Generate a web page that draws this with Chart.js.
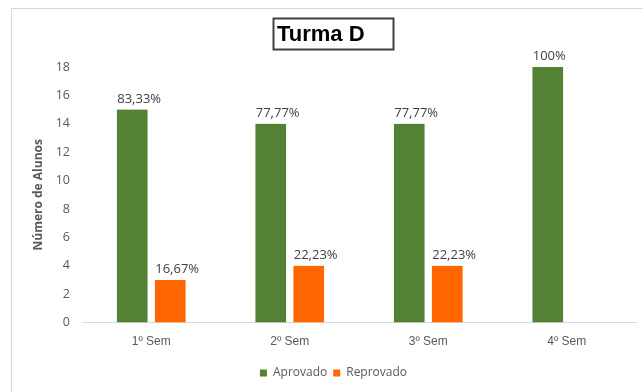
<!DOCTYPE html>
<html>
<head>
<meta charset="utf-8">
<script src="https://cdn.jsdelivr.net/npm/chart.js@4.4.1/dist/chart.umd.min.js"></script>
<style>
  html, body { margin: 0; padding: 0; background: #fff; overflow: hidden; }
  #wrap { position: relative; width: 643px; height: 392px; }
  #frame {
    position: absolute; left: 11px; top: 8px; width: 660px; height: 420px;
    border-left: 1px solid #d9d9d9; border-top: 1px solid #d9d9d9;
    pointer-events: none;
  }
  canvas { position: absolute; left: 0; top: 0; }
</style>
</head>
<body>
<div id="wrap">
  <canvas id="turmaChart" width="643" height="392"></canvas>
  <div id="frame"></div>
</div>
<script>
// Turma D - alunos por semestre
const semestres = ['1º Sem', '2º Sem', '3º Sem', '4º Sem'];
const aprovados = [15, 14, 14, 18];
const reprovados = [3, 4, 4, null];
const pctAprovados = ['83,33%', '77,77%', '77,77%', '100%'];
const pctReprovados = ['16,67%', '22,23%', '22,23%', null];
const yTicks = [0, 2, 4, 6, 8, 10, 12, 14, 16, 18];

Chart.defaults.font.family = "'Open Sans', sans-serif";
Chart.defaults.font.size = 12;
Chart.defaults.color = '#595959';

// boxed title drawn above the plot
const titleBox = {
    id: 'titleBox',
    afterDraw(chart) {
        const ctx = chart.ctx;
        ctx.save();
        ctx.strokeStyle = '#404040';
        ctx.lineWidth = 2;
        ctx.strokeRect(273.5, 18.5, 120, 31);
        ctx.fillStyle = '#000';
        ctx.font = "bold 22px 'Liberation Sans', Arial, sans-serif";
        ctx.textBaseline = 'middle';
        ctx.textAlign = 'left';
        ctx.fillText('Turma D', 277, 35);
        ctx.restore();
    }
};

// percentage labels above each bar
const pctLabels = {
    id: 'pctLabels',
    afterDatasetsDraw(chart) {
        const ctx = chart.ctx;
        const sets = [pctAprovados, pctReprovados];
        ctx.save();
        ctx.font = "13px 'Open Sans', sans-serif";
        ctx.fillStyle = '#404040';
        ctx.textAlign = 'left';
        ctx.textBaseline = 'alphabetic';
        chart.data.datasets.forEach((ds, i) => {
            chart.getDatasetMeta(i).data.forEach((bar, j) => {
                if (ds.data[j] == null || sets[i][j] == null) return;
                const left = bar.x - bar.width / 2 + 4;
                ctx.fillText(sets[i][j], left, bar.y - 7);
            });
        });
        ctx.restore();
    }
};

const sideGap = { left: 4, right: 4, top: 0, bottom: 0 };

new Chart(document.getElementById('turmaChart'), {
    type: 'bar',
    data: {
        labels: semestres,
        datasets: [
            {
                label: 'Aprovado',
                data: aprovados,
                backgroundColor: '#548235',
                borderColor: 'rgba(0,0,0,0)',
                borderWidth: sideGap,
                borderSkipped: false,
                barThickness: 38
            },
            {
                label: 'Reprovado',
                data: reprovados,
                backgroundColor: '#ff6600',
                borderColor: 'rgba(0,0,0,0)',
                borderWidth: sideGap,
                borderSkipped: false,
                barThickness: 38
            }
        ]
    },
    options: {
        responsive: false,
        animation: false,
        layout: { padding: { left: 31, top: 67, right: 7, bottom: 3 } },
        plugins: {
            title: { display: false },
            tooltip: { enabled: false },
            legend: {
                position: 'bottom',
                labels: {
                    boxWidth: 7,
                    boxHeight: 7,
                    padding: 6,
                    color: '#595959',
                    font: { size: 12 }
                }
            }
        },
        scales: {
            x: {
                grid: { display: false, drawTicks: false },
                border: { display: true, color: '#d9d9d9', width: 1 },
                ticks: {
                    padding: 12,
                    color: '#595959',
                    font: { family: "'Liberation Sans', Arial, sans-serif", size: 12 }
                }
            },
            y: {
                min: 0,
                max: 18,
                afterBuildTicks(scale) {
                    scale.ticks = yTicks.map(v => ({ value: v }));
                },
                afterFit(scale) {
                    scale.width = 51;
                },
                grid: { display: false, drawTicks: false },
                border: { display: false },
                ticks: { padding: 12, color: '#595959', font: { size: 12.5 } },
                title: {
                    display: true,
                    text: 'Número de Alunos',
                    color: '#595959',
                    font: { size: 12, weight: 'bold' },
                    padding: 0
                }
            }
        }
    },
    plugins: [titleBox, pctLabels]
});
</script>
</body>
</html>
